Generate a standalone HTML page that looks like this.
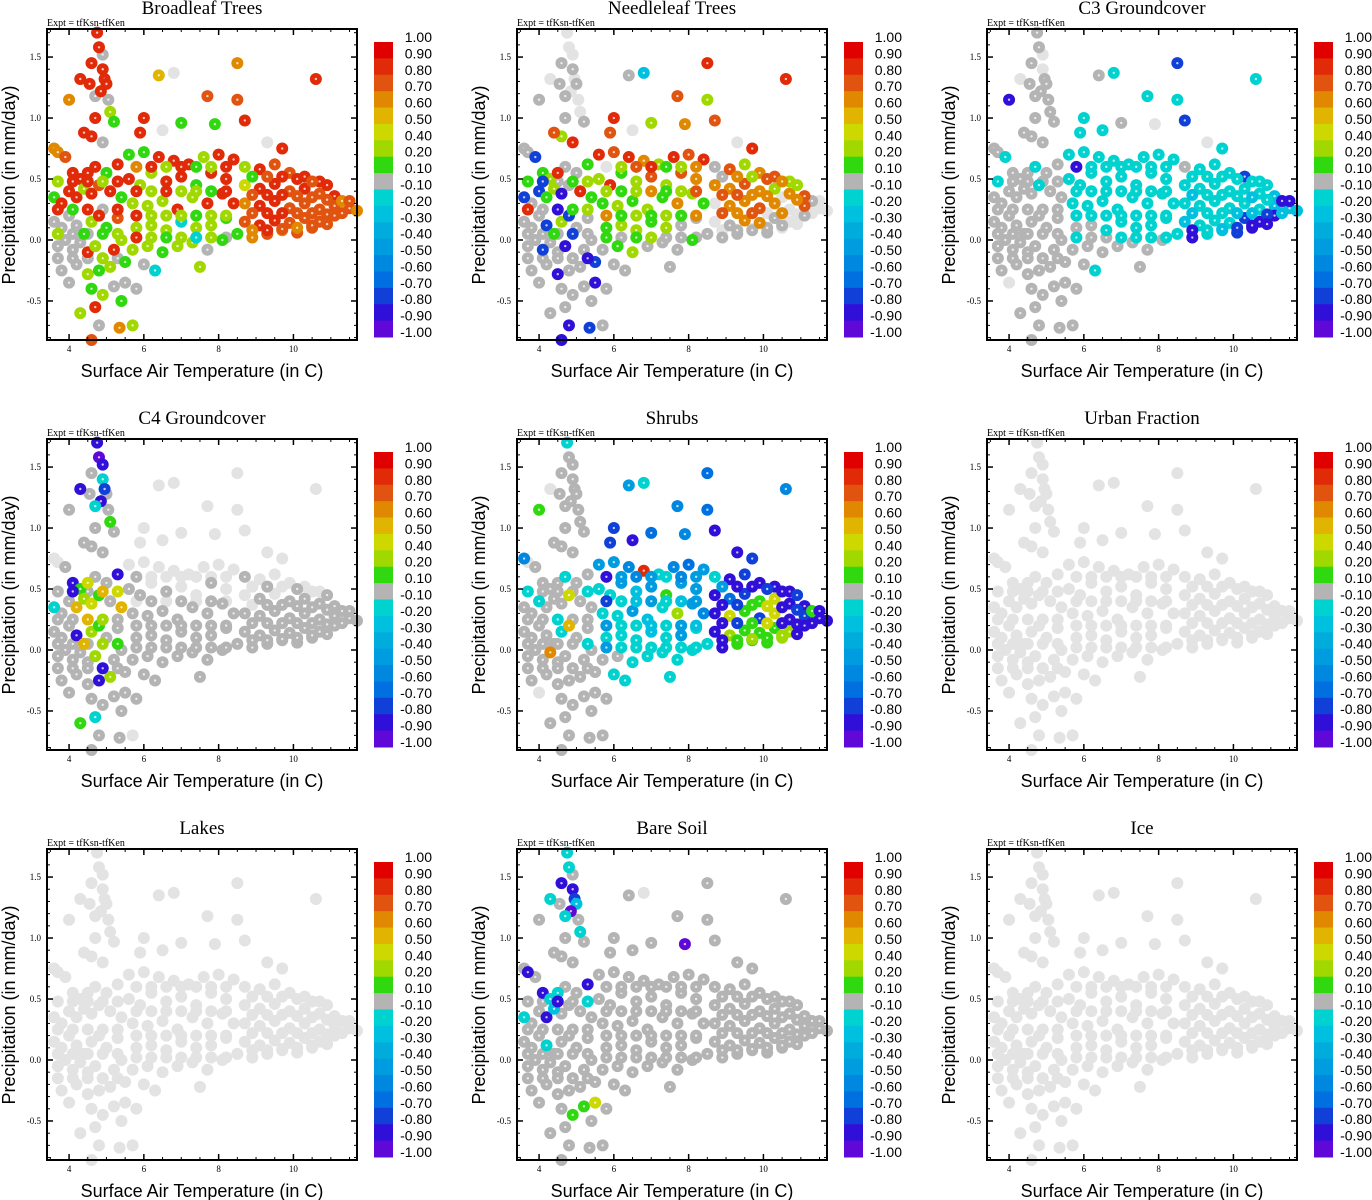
<!DOCTYPE html>
<html><head><meta charset="utf-8"><style>
html,body{margin:0;padding:0;background:#fff;}
svg{display:block;}
.ttl{font-family:"Liberation Serif",serif;font-size:19px;}
.exp{font-family:"Liberation Serif",serif;font-size:10px;}
.tk{font-family:"Liberation Serif",serif;font-size:9px;}
.ax{font-family:"Liberation Sans",sans-serif;font-size:18px;}
.cb{font-family:"Liberation Sans",sans-serif;font-size:14px;}
</style></head><body>
<svg id="chart" width="1372" height="1200" viewBox="0 0 1372 1200" xmlns="http://www.w3.org/2000/svg"></svg>
<script>
// shared point cloud: surface air temperature (C) and precipitation (mm/day)
const temps = [4.75,4.8,4.9,4.95,5.0,4.85,4.7,5.05,4.6,4.9,4.55,5.1,4.7,5.2,
3.6,3.7,3.9,4.1,4.3,4.5,4.7,5.0,5.3,4.6,4.4,4.9,
3.6,3.8,4.0,4.2,4.4,4.6,4.8,5.1,5.4,
3.6,3.8,4.0,4.2,4.4,4.6,4.8,5.0,5.3,
3.7,3.9,4.1,4.3,4.5,4.7,4.9,5.2,5.4,
3.8,4.2,4.5,4.8,5.1,5.5,
4.6,4.9,5.2,5.5,5.8,4.3,4.7,5.4,4.8,4.6,5.35,5.7,4.0,
5.6,6.0,6.4,6.8,7.2,7.6,8.0,8.4,
5.6,5.9,6.2,6.6,7.0,7.4,7.8,8.2,
5.7,6.1,6.5,6.9,7.3,7.7,8.1,8.4,
5.8,6.2,6.6,7.0,7.4,7.8,8.2,
5.7,6.1,6.5,6.9,7.3,7.7,8.1,8.5,
6.3,7.5,6.0,
8.7,9.1,9.5,9.9,10.3,10.7,
8.7,9.1,9.5,9.9,10.3,10.7,11.1,
8.7,9.1,9.5,9.9,10.3,10.7,11.1,11.5,11.7,
8.7,9.1,9.5,9.9,10.3,10.7,11.1,
8.9,9.3,9.7,10.1,10.5,
4.0,4.3,6.4,6.8,7.7,8.5,8.5,10.6,7.9,8.7,6.0,7.0,6.5,9.3,9.7,5.9,
8.9,9.3,9.7,10.1,10.5,10.9,
8.9,9.3,9.7,10.1,10.5,10.9,
8.9,9.3,9.7,10.1,10.5,10.9,
8.9,9.3,9.7,10.1,10.5,10.9,
11.3,11.3,11.5,
5.8,6.2,6.6,7.0,7.4,7.8,8.2,
5.8,6.2,6.6,7.0,7.4,7.8,8.2,
5.8,6.2,6.6,7.0,7.4,7.8,8.2,
5.8,6.2,6.6,7.0,7.4,7.8,8.2,
3.7,4.1,4.5,4.9,5.3,
3.7,4.1,4.5,4.9,5.3,
3.7,4.1,4.5,4.9,5.3,
3.7,4.1,4.5,4.9,5.3];
const precs = [1.70,1.58,1.40,1.32,1.28,1.22,1.18,1.15,1.45,1.52,1.28,1.05,1.0,0.97,
0.75,0.72,0.68,0.55,0.50,0.55,0.60,0.55,0.62,0.85,0.88,0.80,
0.35,0.30,0.40,0.35,0.42,0.38,0.45,0.40,0.35,
0.15,0.10,0.20,0.12,0.05,0.15,0.20,0.10,0.18,
-0.05,0.00,-0.08,-0.02,-0.10,-0.05,-0.15,-0.08,0.00,
-0.25,-0.20,-0.28,-0.25,-0.22,-0.18,
-0.40,-0.45,-0.38,-0.35,-0.40,-0.60,-0.55,-0.50,-0.70,-0.82,-0.72,-0.70,-0.35,
0.70,0.72,0.68,0.65,0.62,0.68,0.70,0.66,
0.50,0.45,0.55,0.48,0.52,0.45,0.55,0.50,
0.30,0.28,0.32,0.25,0.35,0.30,0.38,0.30,
0.10,0.12,0.08,0.15,0.10,0.12,0.18,
-0.08,-0.05,-0.10,-0.05,-0.02,-0.08,0.00,0.05,
-0.25,-0.22,-0.20,
0.60,0.58,0.62,0.55,0.52,0.48,
0.45,0.42,0.46,0.40,0.42,0.38,0.36,
0.30,0.28,0.32,0.26,0.30,0.25,0.28,0.26,0.24,
0.15,0.12,0.16,0.14,0.18,0.15,0.20,
0.02,0.05,0.08,0.06,0.10,
1.15,1.32,1.35,1.37,1.18,1.45,1.15,1.32,0.95,0.98,1.0,0.96,0.90,0.80,0.75,0.88,
0.52,0.52,0.52,0.50,0.48,0.45,
0.37,0.37,0.37,0.36,0.35,0.33,
0.22,0.22,0.22,0.22,0.22,0.21,
0.08,0.08,0.09,0.10,0.12,0.13,
0.32,0.22,0.32,
0.60,0.60,0.60,0.60,0.60,0.60,0.60,
0.40,0.40,0.40,0.40,0.40,0.40,0.40,
0.20,0.20,0.20,0.20,0.20,0.20,0.20,
0.02,0.02,0.02,0.02,0.02,0.02,0.02,
0.48,0.48,0.48,0.48,0.48,
0.25,0.25,0.25,0.25,0.25,
0.05,0.05,0.05,0.05,0.05,
-0.15,-0.15,-0.15,-0.15,-0.15];
// panel titles
const titles = ["Broadleaf Trees","Needleleaf Trees","C3 Groundcover","C4 Groundcover","Shrubs","Urban Fraction","Lakes","Bare Soil","Ice"];
// per-panel correlation class codes: a..r = colorbar bins (top to bottom), '.' = missing
const codesBroadleaf = ["bbbbbbiibibgbh","ddcbbbbhbbbi","hbbbgbcbh","iiiihgbhc","iiiibghbg","iighgh","hgiiigbhicdgi","hhbbbgbb","bggbbhbb","gggbgbbb","gggjggh","gghggihhj","gig","bccbbf","bbcbcbd","bbcccccdc","bbccccd","cdccd","be.cdcbhbbh..bbh",
"cbbcbc","bbcccc","bbcccd","bcdccd","ccd","bgbhgbb","gbgghbb","ggghggb","ghgjgig","bbgbb","hbibg","iihgi","iigii"];
const codesNeedleleaf = ["..i.i.i.i.i.ii","iiphgbiihgcb","piphgqibh","iiiphgpii","iipiiqiii","iiqiip","iiiqiiiiqqpii","bcbdgbcb","gbhgcgcd","hghghdgh","hgghgii","ihgiiihii","iii","cgdcgd","dcdgdc.","ddcd.c...","iddi.ii","iii.i",".ikcbgbdcbg..bci",
"dgcdgc","cdd.dc","dc.d..","i.ii.i","...","gcbhgdg","hgdhgcd","hghghdh","ihgiiih","pihgb","iqhgi","iipii","iiiqi"];
const codesC3 = ["ii.iiiiii.iiii","iijiiijiiiii","iiiiiijii","iiiiiiiii","iiiiiiiii","iiiiii","iiiiiiiiiiii.","jjjjjjjj","jjjjjjjj","jjjjjjjj","iijjjjj","iiiiiiijj","iii","jjjpjj","jjjjjkj","jjjjjkkkk","jjjpqqq","jkpqq",".ijjpjj.pjij.jjj",
"jjjjjk","jjjkjk","jjkkpq","jkpqqq","kqq","jjjjjjj","jjjjjjj","jjjjjjj","iijjjjj","iiiii","iiiii","iiiii","iiiii"];
const codesC4 = ["qrjpiqjiiqihii","..iqhfiiqiii","jiiegfhie","iiiqeghii","iiiiigjii","iiiqgi","iiiiihjiiii.i","........","ii.i..i.","iiiiiiii","iiiiiii","iiiiiiiii","iii","......","i.iiiii","iiiiiiiii","iiiiiii","iiiii","q...............",
"i.i.i.","iiiiii","iiiiii","iiiiii","iii",".......","i.i.i.i","iiiiiii","iiiiiii","qiefi","iegii","iighi","iiqii"];
const codesShrubs = ["jiiiiiiiiiiiii","n.iiiijiiiii","iijiiifii","iiiiijeii","iiidiiiii","iiiiii","iiiiiiiiiiii.","mmnbjnom","jjmkmhmm","jjmkjgmn","jjjkjmj","iijjjjjjj","jjj","qpqqqq","ophfqqq","fhpfqpqqq","ghhhgqq","hhhgh",".mjnoonnqpoqqppm",
"qqpqpq","phfqpq","phfqqq","hghgqh","qqq","mnmjnmp","jkmjkmm","jjkjmkm","jjjjjjj","iiiji","ijiii","iiiji","iiiii"];
const codesUrban = ["..............","............",".........",".........",".........","......",".............","........","........","........",".......",".........","...","......",".......",".........",".......",".....","................",
"......","......","......","......","...",".......",".......",".......",".......",".....",".....",".....","....."];
const codesLakes = ["..............","............",".........",".........",".........","......",".............","........","........","........",".......",".........","...","......",".......",".........",".......",".....","................",
"......","......","......","......","...",".......",".......",".......",".......",".....",".....",".....","....."];
const codesBareSoil = ["jjqpkrjiqiijii","iqiqjjiiqiii","jiiqkiiii","iiijiiiii","iiiiiiiii","iiiiii","ihhfiiiiiiiii","iiiiiiii","iiiiiiii","iiiiiiii","iiiiiii","iiiiiiiii","iii","iiiiii","iiiiiii","iiiiiiiii","iiiiiii","iiiii","ji.iiiiriiiiiiii",
"iiiiii","iiiiii","iiiiii","iiiiii","iii","iiiiiii","iiiiiii","iiiiiii","iiiiiii","iqiji","iiiii","iiiii","iiiii"];
const codesIce = ["..............","............",".........",".........",".........","......",".............","........","........","........",".......",".........","...","......",".......",".........",".......",".....","................",
"......","......","......","......","...",".......",".......",".......",".......",".....",".....",".....","....."];
const panelCodes = [codesBroadleaf,codesNeedleleaf,codesC3,codesC4,codesShrubs,codesUrban,codesLakes,codesBareSoil,codesIce];
// colorbar labels and axis ticks
const cbLabels = ["1.00","0.90","0.80","0.70","0.60","0.50","0.40","0.20","0.10","-0.10","-0.20","-0.30","-0.40","-0.50","-0.60","-0.70","-0.80","-0.90","-1.00"];
const xTicks = [4,6,8,10];
const yTicks = [-0.5,0.0,0.5,1.0,1.5];

const binColors = ["#e00000","#e02a08","#e05410","#e08800","#e0b400","#ccd800","#a0d800","#30d810","#b4b4b4","#00d2d0","#00c0e0","#00acdc","#009ce0","#0088e0","#0070e0","#1040d8","#3010d8","#6008d8"];
const NAN = "#e3e3e3";
const NS = "http://www.w3.org/2000/svg";
const svg = document.getElementById('chart');
function mk(tag, attrs, parent){const e=document.createElementNS(NS,tag);for(const k in attrs)e.setAttribute(k,attrs[k]);parent.appendChild(e);return e;}
const PX0=47,PX1=357,PY0=29,PY1=340,XMIN=3.41,XMAX=11.70,YMIN=-0.82,YMAX=1.73;
function sx(v){return PX0+(v-XMIN)/(XMAX-XMIN)*(PX1-PX0);}
function sy(v){return PY1-(v-YMIN)/(YMAX-YMIN)*(PY1-PY0);}

panelCodes.forEach((groups,p)=>{
  const ox=(p%3)*470, oy=Math.floor(p/3)*410;
  const g=mk('g',{transform:`translate(${ox},${oy})`},svg);
  
  
  const t=mk('text',{x:202,y:14,'text-anchor':'middle',class:'ttl'},g); t.textContent=titles[p];
  
  
  const ex=mk('text',{x:47,y:26,class:'exp'},g); ex.textContent='Expt = tfKsn-tfKen';
  
  
  const codes=groups.join('');
  const pg=mk('g',{},g);
  
  
  const order=[];
  for(let i=0;i<temps.length;i++){const c=codes[i]||'.';order.push([c==='.'?0:(c==='i'?1:2),i]);}
  order.sort((a,b)=>a[0]-b[0]||a[1]-b[1]);
  order.forEach(([lvl,i])=>{
    const c=codes[i]||'.';
    const col=c==='.'?NAN:binColors[c.charCodeAt(0)-97];
    const cx=sx(temps[i]), cy=sy(precs[i]);
    const ci=mk('circle',{cx:cx,cy:cy,r:6,fill:col},pg);
    
    
    if(c!=='.') mk('circle',{cx:cx,cy:cy,r:1.2,fill:'#fff','fill-opacity':0.75},pg);
  });
  const fr=mk('rect',{x:PX0,y:PY0,width:PX1-PX0,height:PY1-PY0,fill:'none',stroke:'#000','stroke-width':2},g);
  
  
  for(let v=3.5;v<=11.6;v+=0.5){const x=sx(v);mk('line',{x1:x,y1:PY1,x2:x,y2:PY1-3,stroke:'#000'},g);mk('line',{x1:x,y1:PY0,x2:x,y2:PY0+3,stroke:'#000'},g);}
  for(let k=-8;k<=17;k++){const y=sy(k/10);mk('line',{x1:PX0,y1:y,x2:PX0+3,y2:y,stroke:'#000'},g);mk('line',{x1:PX1,y1:y,x2:PX1-3,y2:y,stroke:'#000'},g);}
  xTicks.forEach(v=>{const x=sx(v);
    mk('line',{x1:x,y1:PY1,x2:x,y2:PY1-6,stroke:'#000','stroke-width':1.5},g);
    mk('line',{x1:x,y1:PY0,x2:x,y2:PY0+6,stroke:'#000','stroke-width':1.5},g);
    const l=mk('text',{x:x,y:352,'text-anchor':'middle',class:'tk'},g);l.textContent=v;
    
    });
  yTicks.forEach(v=>{const y=sy(v);
    mk('line',{x1:PX0,y1:y,x2:PX0+6,y2:y,stroke:'#000','stroke-width':1.5},g);
    mk('line',{x1:PX1,y1:y,x2:PX1-6,y2:y,stroke:'#000','stroke-width':1.5},g);
    const l=mk('text',{x:41,y:y+3,'text-anchor':'end',class:'tk'},g);l.textContent=v.toFixed(1);
    
    });
  const xl=mk('text',{x:202,y:377,'text-anchor':'middle',class:'ax'},g);xl.textContent='Surface Air Temperature (in C)';
  
  
  const yl=mk('text',{x:0,y:0,'text-anchor':'middle',class:'ax',transform:'translate(15,185) rotate(-90)'},g);yl.textContent='Precipitation (in mm/day)';
  
  
  const cb=mk('g',{},g);
  
  
  const bh=(337-42)/binColors.length;
  binColors.forEach((c,k)=>{mk('rect',{x:374,y:42+k*bh,width:19,height:bh+0.5,fill:c},cb);});
  cbLabels.forEach((s,k)=>{const l=mk('text',{x:432,y:42+k*bh,'text-anchor':'end',class:'cb'},cb);l.textContent=s;
    
    });
});
</script>
</body></html>
